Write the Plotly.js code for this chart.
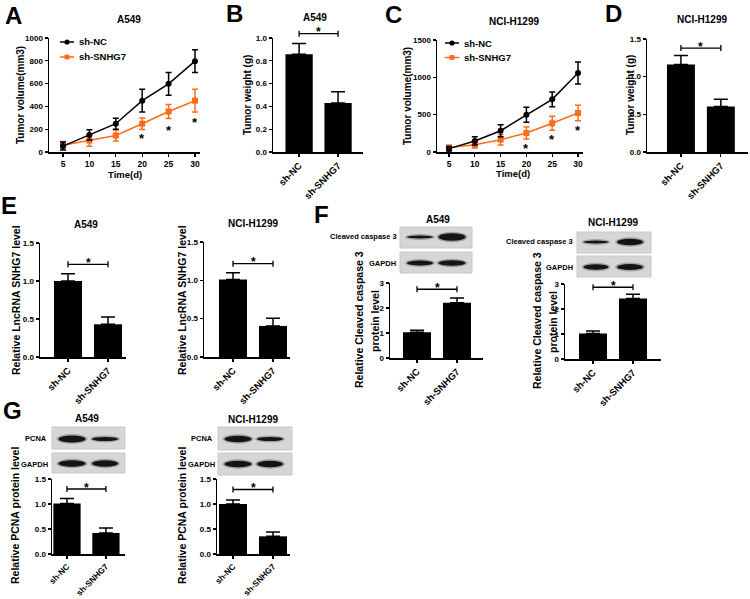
<!DOCTYPE html>
<html><head><meta charset="utf-8">
<script src="https://cdn.plot.ly/plotly-3.0.1.min.js"></script>
<style>html,body{margin:0;padding:0;background:#fff}#chart{width:750px;height:599px}</style>
</head><body><div id="chart"></div>
<script>
// ================= DATA =================
const days = [5, 10, 15, 20, 25, 30];
const groups = ['sh-NC', 'sh-SNHG7'];
const seriesNames = ['sh-NC', 'sh-SNHG7'];

// A: A549 tumor volume (mm3)
const a549VolNC = [52, 150, 248, 450, 598, 797];
const a549VolNCErr = [35, 45, 48, 100, 100, 100];
const a549VolSH = [60, 100, 145, 248, 355, 450];
const a549VolSHErr = [32, 50, 48, 50, 62, 100];
const a549StarDays = [20, 25, 30];
const a549StarY = [136, 210, 277];

// C: NCI-H1299 tumor volume (mm3)
const h1299VolNC = [45, 148, 285, 498, 705, 1058];
const h1299VolNCErr = [30, 55, 80, 100, 100, 148];
const h1299VolSH = [60, 98, 165, 254, 385, 522];
const h1299VolSHErr = [30, 45, 70, 80, 95, 105];
const h1299StarDays = [20, 25, 30];
const h1299StarY = [76, 200, 320];

// B / D: tumor weight (g)
const a549Weight = [0.857, 0.43];
const a549WeightErr = [0.095, 0.098];
const h1299Weight = [1.16, 0.605];
const h1299WeightErr = [0.12, 0.095];

// E: relative LncRNA SNHG7 level
const a549Lnc = [1.0, 0.43];
const a549LncErr = [0.097, 0.096];
const h1299Lnc = [1.01, 0.405];
const h1299LncErr = [0.09, 0.1];

// F: relative cleaved caspase 3 protein level
const a549Casp = [1.03, 2.21];
const a549CaspErr = [0.08, 0.19];
const h1299Casp = [1.02, 2.42];
const h1299CaspErr = [0.1, 0.17];

// G: relative PCNA protein level
const a549Pcna = [1.01, 0.42];
const a549PcnaErr = [0.1, 0.1];
const h1299Pcna = [1.0, 0.353];
const h1299PcnaErr = [0.08, 0.087];

// significance bracket heights (B, D, E1, E2, F1, F2, G1, G2)
const bracketLevels = [1.038, 1.38, 1.22, 1.217, 2.75, 2.87, 1.3, 1.29];

// ================= LAYOUT HELPERS =================
const W = 750, H = 599;
const FONT = 'Liberation Sans, Arial, sans-serif';
const px = v => v / W;
const py = v => 1 - v / H;
const NC_COLOR = '#000000';
const SH_COLOR = '#ff6a1c';

// panel boxes in pixels: [left, right], [top, bottom]
const panels = [
  {id: '',   xd: [49, 200],  yd: [38, 152],  xr: [2.35, 30.95], yr: [0, 1000], dtick: 200, fmt: 'd', line: true},
  {id: '2',  xd: [273, 363], yd: [38, 152],  xr: [-0.67, 1.64], yr: [0, 1],    dtick: 0.2, fmt: '.1f'},
  {id: '3',  xd: [437, 583], yd: [40, 152],  xr: [2.67, 30.97], yr: [0, 1500], dtick: 500, fmt: 'd', line: true},
  {id: '4',  xd: [647, 748], yd: [39, 152],  xr: [-0.85, 1.68], yr: [0, 1.5],  dtick: 0.5, fmt: '.1f'},
  {id: '5',  xd: [40, 126],  yd: [243, 357], xr: [-0.7, 1.45],  yr: [0, 1.5],  dtick: 0.5, fmt: '.1f'},
  {id: '6',  xd: [204, 290], yd: [242, 357], xr: [-0.725, 1.425], yr: [0, 1.5], dtick: 0.5, fmt: '.1f'},
  {id: '7',  xd: [390, 483], yd: [283, 358], xr: [-0.675, 1.65], yr: [0, 3],   dtick: 1,   fmt: 'd'},
  {id: '8',  xd: [565, 661], yd: [284, 359], xr: [-0.7, 1.7],   yr: [0, 3],    dtick: 1,   fmt: 'd'},
  {id: '9',  xd: [52, 125],  yd: [479, 554], xr: [-0.385, 1.49], yr: [0, 1.5], dtick: 0.5, fmt: '.1f', tf: 8.3},
  {id: '10', xd: [217, 290], yd: [479, 554], xr: [-0.4, 1.425], yr: [0, 1.5],  dtick: 0.5, fmt: '.1f', tf: 8.3}
];

const layout = {
  width: W, height: H,
  margin: {l: 0, r: 0, t: 0, b: 0},
  paper_bgcolor: '#fff', plot_bgcolor: 'rgba(0,0,0,0)',
  showlegend: false,
  font: {family: FONT, color: '#000', size: 8, weight: 'bold'},
  annotations: [], shapes: []
};

panels.forEach(p => {
  const xa = {
    domain: [px(p.xd[0]), px(p.xd[1])], range: p.xr,
    showgrid: false, zeroline: false, showline: true, linecolor: '#000', linewidth: 1.5,
    ticks: 'outside', ticklen: 3, tickwidth: 1.3, tickcolor: '#000',
    tickfont: {family: FONT, size: 8.5, weight: 'bold', color: '#000'},
    anchor: 'y' + p.id, fixedrange: true
  };
  if (p.line) { xa.tickvals = days; xa.ticktext = days.map(String); }
  else { xa.type = 'category'; xa.tickangle = -45; xa.tickfont.size = p.tf || 9.5; }
  const ya = {
    domain: [py(p.yd[1]), py(p.yd[0])], range: p.yr,
    showgrid: false, zeroline: false, showline: true, linecolor: '#000', linewidth: 1.5,
    ticks: 'outside', ticklen: 3, tickwidth: 1.3, tickcolor: '#000',
    dtick: p.dtick, tick0: 0, tickformat: p.fmt,
    tickfont: {family: FONT, size: 8, weight: 'bold', color: '#000'},
    anchor: 'x' + p.id, fixedrange: true
  };
  layout['xaxis' + p.id] = xa;
  layout['yaxis' + p.id] = ya;
});

const traces = [];

// ---- line charts ----
function lineSeries(p, y, err, color, symbol) {
  traces.push({
    type: 'scatter', mode: 'lines+markers', x: days, y: y,
    xaxis: 'x' + p, yaxis: 'y' + p, cliponaxis: false,
    line: {color: color, width: 1.5},
    marker: {symbol: symbol, size: 6, color: color},
    error_y: {type: 'data', array: err, color: color, thickness: 1.5, width: 3}
  });
}
lineSeries('', a549VolSH, a549VolSHErr, SH_COLOR, 'square');
lineSeries('', a549VolNC, a549VolNCErr, NC_COLOR, 'circle');
lineSeries('3', h1299VolSH, h1299VolSHErr, SH_COLOR, 'square');
lineSeries('3', h1299VolNC, h1299VolNCErr, NC_COLOR, 'circle');

function stars(p, xs, ys) {
  xs.forEach((d, i) => layout.annotations.push({
    xref: 'x' + p, yref: 'y' + p, x: d, y: ys[i], text: '*', showarrow: false,
    font: {family: FONT, size: 13, weight: 'bold', color: '#000'}, yanchor: 'middle', yshift: -2
  }));
}
stars('', a549StarDays, a549StarY);
stars('3', h1299StarDays, h1299StarY);

// ---- bar charts ----
const barSets = [
  {p: 1, y: a549Weight, e: a549WeightErr},
  {p: 3, y: h1299Weight, e: h1299WeightErr},
  {p: 4, y: a549Lnc, e: a549LncErr},
  {p: 5, y: h1299Lnc, e: h1299LncErr},
  {p: 6, y: a549Casp, e: a549CaspErr},
  {p: 7, y: h1299Casp, e: h1299CaspErr},
  {p: 8, y: a549Pcna, e: a549PcnaErr},
  {p: 9, y: h1299Pcna, e: h1299PcnaErr}
];
barSets.forEach((b, k) => {
  const P = panels[b.p];
  traces.push({
    type: 'bar', x: groups, y: b.y, xaxis: 'x' + P.id, yaxis: 'y' + P.id,
    width: 0.7, marker: {color: '#000', line: {width: 0}},
    error_y: {type: 'data', array: b.e, arrayminus: b.e.map(() => 0), color: '#000', thickness: 1.5, width: 7}
  });
  // hidden helper y axis, same scale, extended upward so the bracket is not clipped
  const scale = (P.yr[1] - P.yr[0]) / (P.yd[1] - P.yd[0]);
  const ext = 25;
  const hid = String(20 + k);
  layout['yaxis' + hid] = {
    domain: [py(P.yd[1]), py(P.yd[0] - ext)], range: [P.yr[0], P.yr[1] + ext * scale],
    visible: false, showgrid: false, zeroline: false, anchor: 'x' + P.id, fixedrange: true
  };
  const lv = bracketLevels[k];
  const h = 3 * scale;
  traces.push({
    type: 'scatter', mode: 'lines', cliponaxis: false, hoverinfo: 'skip',
    xaxis: 'x' + P.id, yaxis: 'y' + hid,
    x: [groups[0], groups[0], null, groups[0], groups[1], null, groups[1], groups[1]],
    y: [lv - h, lv + h, null, lv, lv, null, lv - h, lv + h],
    line: {color: '#000', width: 1.3}
  });
  layout.annotations.push({
    xref: 'x' + P.id, yref: 'y' + hid, x: 0.5, y: lv, text: '*', showarrow: false,
    font: {family: FONT, size: 12, weight: 'bold', color: '#000'}, yanchor: 'middle', yshift: 1.5
  });
});

// ---- text annotations ----
function txt(x, y, text, size, opts) {
  layout.annotations.push(Object.assign({
    xref: 'paper', yref: 'paper', x: px(x), y: py(y), text: text, showarrow: false,
    xanchor: 'center', yanchor: 'middle',
    font: {family: FONT, size: size, weight: 'bold', color: '#000'}
  }, opts || {}));
}
// panel letters
[['A', 13, 15], ['B', 234, 13], ['C', 393, 14], ['D', 613, 13], ['E', 9, 206], ['F', 321, 214], ['G', 12, 410]]
  .forEach(l => txt(l[1], l[2], l[0], 24));
// titles
[['A549', 129, 20], ['A549', 315, 18], ['NCI-H1299', 514, 22], ['NCI-H1299', 702, 20],
 ['A549', 86, 224], ['NCI-H1299', 253, 223], ['A549', 438, 219], ['NCI-H1299', 613, 222],
 ['A549', 87, 418], ['NCI-H1299', 253, 419]].forEach(t => txt(t[1], t[2], t[0], 10));
// axis titles
txt(20, 95, 'Tumor volume(mm3)', 10, {textangle: -90});
txt(125, 175, 'Time(d)', 9.5);
txt(407, 96, 'Tumor volume(mm3)', 10, {textangle: -90});
txt(513, 174, 'Time(d)', 9.5);
txt(247, 95, 'Tumor weight (g)', 10, {textangle: -90});
txt(630, 95, 'Tumor weight (g)', 10, {textangle: -90});
txt(16, 300, 'Relative LncRNA SNHG7 level', 10.5, {textangle: -90});
txt(182, 300, 'Relative LncRNA SNHG7 level', 10.5, {textangle: -90});
txt(359, 320, 'Relative Cleaved caspase 3', 10.5, {textangle: -90});
txt(375, 321, 'protein level', 10.5, {textangle: -90});
txt(537, 321, 'Relative Cleaved caspase 3', 10.5, {textangle: -90});
txt(553, 322, 'protein level', 10.5, {textangle: -90});
txt(15, 516, 'Relative PCNA protein level', 10.5, {textangle: -90});
txt(182, 516, 'Relative PCNA protein level', 10.5, {textangle: -90});

// ---- legends (drawn) ----
function legendItem(x0, y, color, symbol, label) {
  layout.shapes.push({type: 'line', xref: 'paper', yref: 'paper', x0: px(x0), x1: px(x0 + 14), y0: py(y), y1: py(y),
    line: {color: color, width: 1.5}});
  const c = x0 + 7, r = symbol === 'circle' ? 2.6 : 2.4;
  layout.shapes.push({type: symbol === 'circle' ? 'circle' : 'rect', xref: 'paper', yref: 'paper',
    x0: px(c - r), x1: px(c + r), y0: py(y + r), y1: py(y - r), fillcolor: color, line: {width: 0}});
  txt(x0 + 17, y, label, 9.5, {xanchor: 'left'});
}
legendItem(60, 42, NC_COLOR, 'circle', seriesNames[0]);
legendItem(60, 57, SH_COLOR, 'square', seriesNames[1]);
legendItem(445, 43, NC_COLOR, 'circle', seriesNames[0]);
legendItem(445, 57.5, SH_COLOR, 'square', seriesNames[1]);

// ---- western blot strips (decorative) ----
function blotBox(x0, y0, x1, y1) {
  layout.shapes.push({type: 'rect', xref: 'paper', yref: 'paper', layer: 'below',
    x0: px(x0), x1: px(x1), y0: py(y1), y1: py(y0), fillcolor: '#d6d6d6', line: {color: '#c8c8c8', width: 1}});
}
function band(cx, cy, w, h) {
  layout.shapes.push({type: 'circle', xref: 'paper', yref: 'paper', layer: 'below',
    x0: px(cx - w / 2 - 2), x1: px(cx + w / 2 + 2), y0: py(cy + h / 2 + 1.5), y1: py(cy - h / 2 - 1.5),
    fillcolor: '#7a7a7a', opacity: 0.55, line: {width: 0}});
  layout.shapes.push({type: 'circle', xref: 'paper', yref: 'paper', layer: 'below',
    x0: px(cx - w / 2), x1: px(cx + w / 2), y0: py(cy + h / 2), y1: py(cy - h / 2),
    fillcolor: '#141414', line: {width: 0}});
}
// F left
blotBox(400, 227, 472, 248); band(420, 237, 26, 3); band(452, 237, 27, 7.5);
blotBox(400, 252, 472, 273); band(420, 263, 26, 5); band(452, 263, 27, 5.5);
txt(399, 237, 'Cleaved caspase 3', 7.5, {xanchor: 'right'});
txt(398, 263, 'GAPDH', 7.5, {xanchor: 'right'});
// F right
blotBox(577, 232, 651, 253); band(596, 242, 25, 3); band(630, 242, 26, 6.5);
blotBox(577, 256, 651, 277); band(596, 267, 25, 5.5); band(630, 267, 26, 6);
txt(575, 242, 'Cleaved caspase 3', 7.5, {xanchor: 'right'});
txt(575, 267, 'GAPDH', 7.5, {xanchor: 'right'});
// G left
blotBox(52, 427, 125, 449); band(72, 439, 27, 7); band(105, 439, 26, 4);
blotBox(52, 453, 125, 473); band(72, 463.5, 27, 6.5); band(105, 463.5, 26, 6.5);
txt(49, 438, 'PCNA', 7.5, {xanchor: 'right'});
txt(50, 464, 'GAPDH', 7.5, {xanchor: 'right'});
// G right
blotBox(218, 427, 292, 450); band(238, 439, 27, 6.5); band(270, 439, 26, 4);
blotBox(218, 453, 292, 475); band(238, 464, 27, 6.5); band(270, 464, 26, 6.5);
txt(215, 438, 'PCNA', 7.5, {xanchor: 'right'});
txt(217, 464, 'GAPDH', 7.5, {xanchor: 'right'});

Plotly.newPlot('chart', traces, layout, {displayModeBar: false, staticPlot: true});
</script>
</body></html>
